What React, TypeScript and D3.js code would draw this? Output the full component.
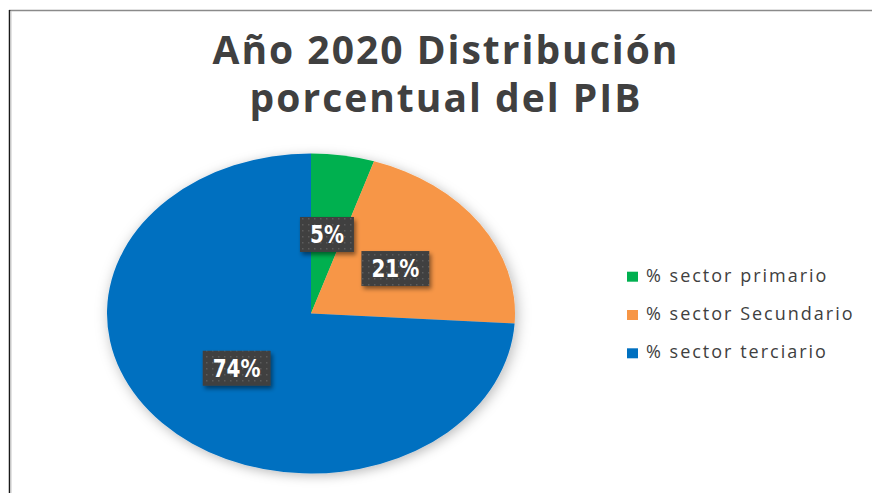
import { useMemo } from 'react';
import * as d3 from 'd3';

const sectors = ['% sector primario', '% sector Secundario', '% sector terciario'];
const shares = [5, 21, 74];
const colors = ['#00B050', '#F79646', '#0070C0'];
const titleLines = ['Año 2020 Distribución', 'porcentual del PIB'];

const W = 872;
const H = 493;

function textWidth(text: string, font: string) {
  const ctx = document.createElement('canvas').getContext('2d');
  if (!ctx) return text.length * 12;
  ctx.font = font;
  return ctx.measureText(text).width;
}

export default function App() {
  const cx = 311;
  const cy = 313.5;
  const rx = 204;
  const ry = 160;
  const k = ry / rx;

  const arcs = useMemo(() => {
    const pie = d3.pie<number>().sort(null).value(d => d);
    return pie(shares);
  }, []);

  const arc = d3.arc<d3.PieArcDatum<number>>().innerRadius(0).outerRadius(rx);

  const labelFont = 'bold 20px "DejaVu Sans"';

  return (
    <svg width={W} height={H} style={{ position: 'absolute', left: 0, top: 0, background: '#fff' }}
      fontFamily='"Open Sans", sans-serif'>
      <defs>
        <filter id="pieShadow" x="-20%" y="-20%" width="140%" height="140%">
          <feDropShadow dx="2" dy="3" stdDeviation="7" floodColor="#000" floodOpacity="0.28" />
        </filter>
        <filter id="boxShadow" x="-30%" y="-30%" width="160%" height="170%">
          <feDropShadow dx="2" dy="3" stdDeviation="2" floodColor="#000" floodOpacity="0.45" />
        </filter>
        <pattern id="dots" width="6" height="6" patternUnits="userSpaceOnUse">
          <rect width="6" height="6" fill="#404040" />
          <rect x="2" y="2" width="1.5" height="1.5" fill="#5c5c5c" />
        </pattern>
      </defs>

      {/* frame */}
      <line x1={9} x2={W} y1={10.5} y2={10.5} stroke="#8a8a8a" strokeWidth={1.5} />
      <line x1={9.5} x2={9.5} y1={10} y2={H} stroke="#1a1a1a" strokeWidth={1.5} />
      <line x1={11} x2={11} y1={11} y2={H} stroke="#c8c8c8" strokeWidth={1} />

      {/* title */}
      {titleLines.map((t, i) => (
        <text key={t} x={446} y={64 + i * 48} textAnchor="middle" fontSize={39}
          letterSpacing={2} fontWeight="bold" fill="#404040">{t}</text>
      ))}

      {/* pie */}
      <g transform={`translate(${cx},${cy}) scale(1,${k})`} filter="url(#pieShadow)">
        {arcs.map((a, i) => (
          <path key={i} d={arc(a) || ''} fill={colors[i]} />
        ))}
      </g>

      {/* data labels */}
      {arcs.map((a, i) => {
        const [x, y] = arc.centroid(a);
        const lx = cx + x;
        const ly = cy + y * k;
        const label = `${shares[i]}%`;
        const bw = textWidth(label, labelFont) + 20;
        const bh = 35;
        return (
          <g key={i}>
            <rect x={lx - bw / 2} y={ly - bh / 2} width={bw} height={bh} fill="url(#dots)" filter="url(#boxShadow)" />
            <text x={lx} y={ly} dy="0.36em" textAnchor="middle" fill="#fff"
              fontFamily='"DejaVu Sans", sans-serif' fontWeight="bold" fontSize={20}
              transform={`translate(0,${ly}) scale(1,1.2) translate(0,${-ly})`}>{label}</text>
          </g>
        );
      })}

      {/* legend */}
      {sectors.map((s, i) => (
        <g key={s} transform={`translate(627,${281.7 + i * 38.3})`}>
          <rect x={0} y={-10} width={11} height={10} fill={colors[i]} />
          <text x={19} y={0} fontSize={18} letterSpacing={2} fill="#404040">{s}</text>
        </g>
      ))}
    </svg>
  );
}
